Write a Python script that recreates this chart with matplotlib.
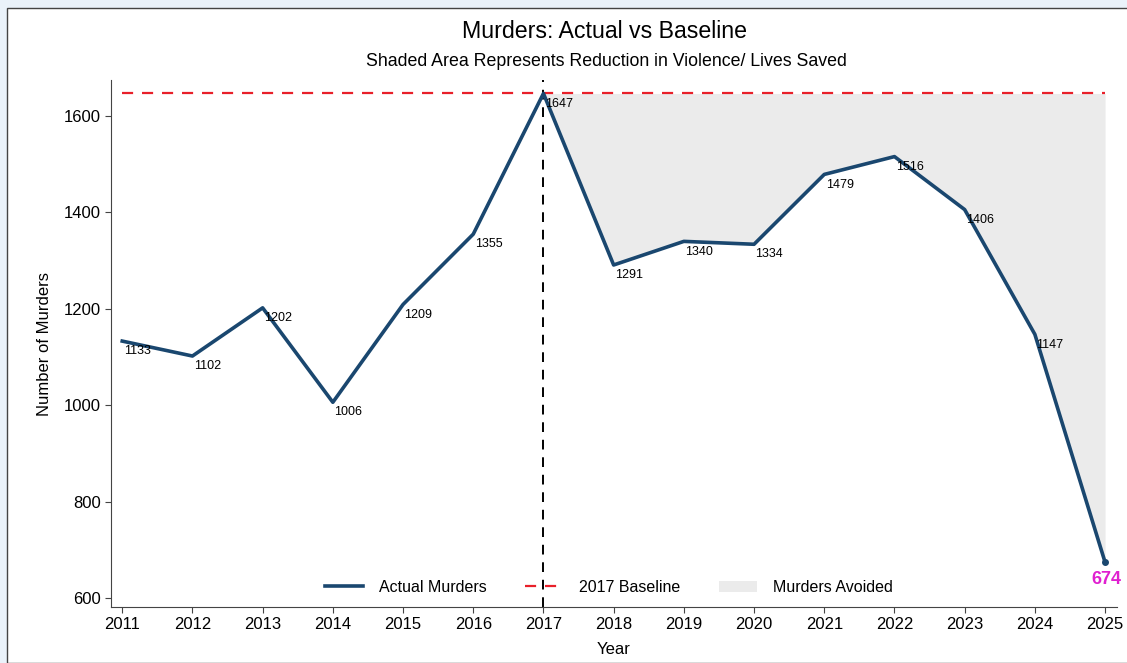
import numpy as np
import matplotlib.pyplot as plt
from matplotlib.patches import Rectangle

plt.rcParams['font.family'] = ['Liberation Sans', 'DejaVu Sans']

# Data ~~~~~~~~~~~~~~~~~~~~~~~~~~~~~~~~~~~~~~~~~~~~~~~~~~~~~~~~~~~~~~~~~~~~~~~~~~~
years = [2011, 2012, 2013, 2014, 2015, 2016, 2017, 2018, 2019, 2020, 2021, 2022, 2023, 2024, 2025]
murders = [1133, 1102, 1202, 1006, 1209, 1355, 1647, 1291, 1340, 1334, 1479, 1516, 1406, 1147, 674]
baseline = 1647
baseline_year = 2017

navy = '#1a476f'

fig = plt.figure(figsize=(11.27, 6.63), dpi=100, facecolor='#eaf2fa')
# white panel with border
fig.patches.append(Rectangle((7/1127, 0), 1.0, (663-8)/663, transform=fig.transFigure,
                             facecolor='white', edgecolor='#444444', linewidth=1.0, zorder=-1))

ax = fig.add_axes([111/1127, 56/663, (1117-111)/1127, (607-80)/663])
ax.set_facecolor('none')

yrs = np.array(years)
vals = np.array(murders)
mask = yrs >= baseline_year
ax.fill_between(yrs[mask], vals[mask], baseline, color='#ebebeb', linewidth=0, label='Murders Avoided', zorder=1)
ax.plot(years, murders, color=navy, lw=2.6, label='Actual Murders', zorder=3)
ax.plot([years[0], years[-1]], [baseline, baseline], color='#e8202a', lw=1.6, ls=(0, (5, 4)),
        label='2017 Baseline', zorder=2)
ax.axvline(baseline_year, color='black', lw=1.4, ls=(0, (5, 4)), zorder=2)

# value labels
for x, y in zip(years[:-1], murders[:-1]):
    ax.annotate(str(y), (x, y), xytext=(1, -3), textcoords='offset points',
                ha='left', va='top', fontsize=9, color='black', zorder=4)
ax.annotate(str(murders[-1]), (years[-1], murders[-1]), xytext=(1, -6), textcoords='offset points',
            ha='center', va='top', fontsize=13, color='#e020d0', fontweight='bold', zorder=4)
ax.plot(years[-1], murders[-1], 'o', color=navy, ms=4, zorder=3)

ax.set_xlim(2010.84, 2025.17)
ax.set_ylim(581, 1675)
ax.set_xticks(years)
ax.set_yticks([600, 800, 1000, 1200, 1400, 1600])
ax.tick_params(labelsize=12, length=4, color='#444444')
ax.spines['top'].set_visible(False)
ax.spines['right'].set_visible(False)
ax.spines['left'].set_color('#444444')
ax.spines['bottom'].set_color('#444444')
ax.set_xlabel('Year', fontsize=12, labelpad=7)
ax.set_ylabel('Number of Murders', fontsize=12, labelpad=8)

h, l = ax.get_legend_handles_labels()
order = [l.index('Actual Murders'), l.index('2017 Baseline'), l.index('Murders Avoided')]
ax.legend([h[i] for i in order], [l[i] for i in order], loc='center', ncol=3, frameon=False,
          fontsize=11.5, bbox_to_anchor=(0.495, 0.037), columnspacing=2.4, handlelength=2.4,
          handletextpad=1.0)

fig.text(604/1127, 1 - 31/663, 'Murders: Actual vs Baseline', ha='center', va='center', fontsize=16.7)
fig.text(606/1127, 1 - 61/663, 'Shaded Area Represents Reduction in Violence/ Lives Saved',
         ha='center', va='center', fontsize=12.8)

plt.savefig('out.png', dpi=100, facecolor=fig.get_facecolor())
